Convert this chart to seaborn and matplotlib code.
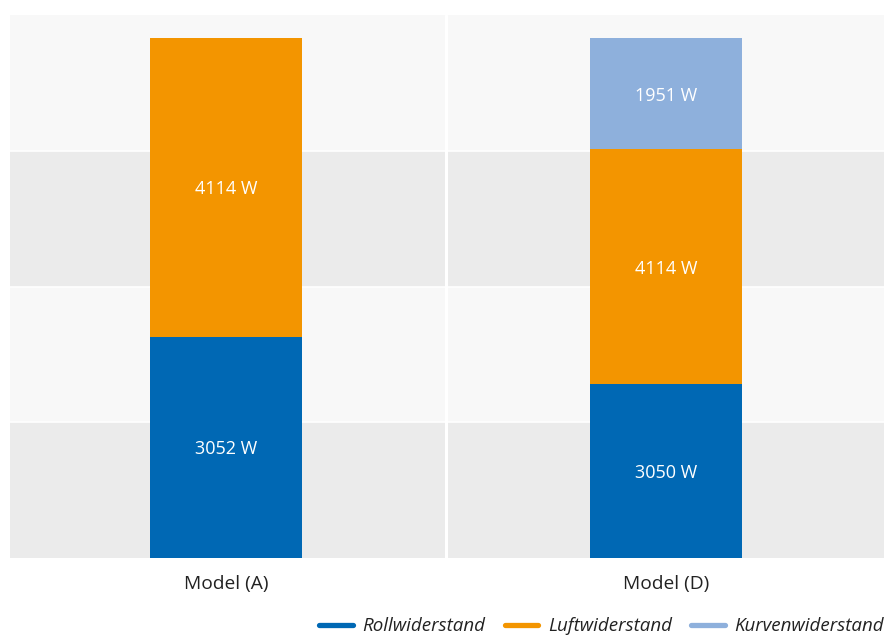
import matplotlib
matplotlib.use("Agg")
import matplotlib.pyplot as plt
import seaborn as sns
import pandas as pd
import numpy as np
from matplotlib.lines import Line2D

models = ["Model (A)", "Model (D)"]
roll = [3052, 3050]
luft = [4114, 4114]
kurve = [0, 1951]
series_names = ["Rollwiderstand", "Luftwiderstand", "Kurvenwiderstand"]
colors = ["#0068b4", "#f39500", "#8eb0dc"]

sns.set_theme(style="white")
plt.rcParams['font.family'] = ['Open Sans', 'DejaVu Sans']

df = pd.DataFrame({"model": models, "Rollwiderstand": roll,
                   "Luftwiderstand": luft, "Kurvenwiderstand": kurve})
total = df[series_names].sum(axis=1)
shares = df[series_names].div(total, axis=0)
cum = shares.cumsum(axis=1)

fig = plt.figure(figsize=(8.86, 6.37), dpi=100)
ax = fig.add_axes([10/886, 1 - 558/637, 874/886, 543/637])

ymax = 1.0445
band = ymax / 4
for i in range(4):
    ax.axhspan(i * band, (i + 1) * band, color="#ebebeb" if i % 2 == 0 else "#f8f8f8", zorder=0, lw=0)
for i in range(1, 4):
    ax.axhline(i * band, color="white", lw=1.2, zorder=0.5)
ax.axvline(0.5, color="white", lw=2.2, zorder=0.5)

for name, col in zip(reversed(series_names), reversed(colors)):
    sns.barplot(x=df["model"], y=cum[name], color=col, width=0.345, ax=ax,
                saturation=1, zorder=2, linewidth=0, edgecolor="none")

for i in range(len(models)):
    bottom = 0
    for name in series_names:
        v = df.loc[i, name]
        s = shares.loc[i, name]
        if v > 0:
            ax.text(i, bottom + s / 2 - 0.004, f"{v} W", ha="center", va="center",
                    color="white", fontsize=13, zorder=3)
        bottom += s

ax.set_xlim(-0.491, 1.495)
ax.set_ylim(0, ymax)
ax.set_yticks([])
ax.set_xlabel("")
ax.set_ylabel("")
ax.tick_params(axis="x", length=0, pad=12, labelsize=13.8, labelcolor="#222222")
for sp in ax.spines.values():
    sp.set_visible(False)

handles = [Line2D([0], [0], color=c, lw=3.8) for c in colors]
leg = fig.legend(handles, series_names, loc="lower right", bbox_to_anchor=(1.017, -0.024),
                 ncol=3, frameon=False, handlelength=1.8, columnspacing=1.05,
                 handletextpad=0.5, prop={"style": "italic", "size": 13.5})
for t in leg.get_texts():
    t.set_color("#222222")

fig.savefig("out.png", dpi=100)
